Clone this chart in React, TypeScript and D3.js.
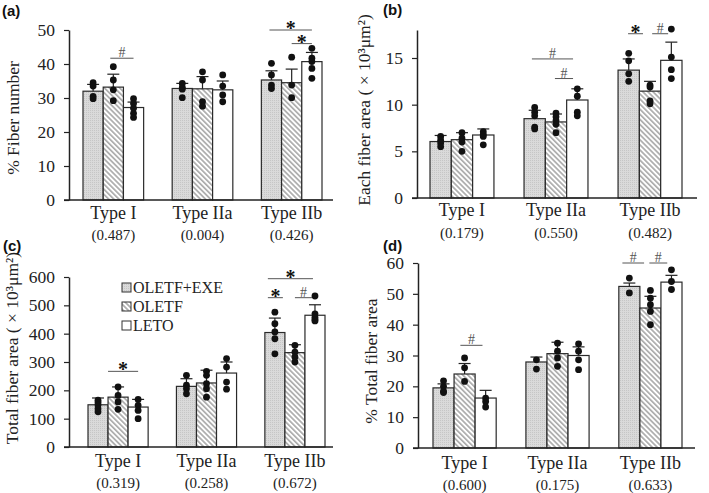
import React, { useEffect, useRef } from 'react'
import * as d3 from 'd3'

const TYPES = ['Type I', 'Type IIa', 'Type IIb']
const GROUPS = ['OLETF+EXE', 'OLETF', 'LETO']

// (a) % fiber number
const A_P = ['(0.487)', '(0.004)', '(0.426)']
const A_MEAN = [[32.0, 33.2, 27.2], [32.8, 32.7, 32.4], [35.3, 34.5, 40.7]]
const A_SD = [[2.0, 3.8, 1.6], [1.5, 3.6, 2.6], [2.7, 4.0, 2.7]]
const A_DOTS = [
  [[34.5, 33.5, 30.5, 29.8], [39.2, 35.3, 32.4, 29.2], [29.8, 28.4, 27.0, 25.5, 24.3]],
  [[34.3, 33.1, 32.6, 30.1], [37.7, 35.3, 28.9, 27.6], [36.8, 33.5, 30.9, 28.9]],
  [[40.2, 36.8, 33.8, 32.8], [42.0, 33.8, 30.1], [44.6, 41.7, 40.7, 38.7, 35.8]],
]
const A_SIG = [
  { type: 0, from: 1.35, to: 2.5, value: 41.7, mark: '#' },
  { type: 2, from: 0.4, to: 2.5, value: 50, mark: '*' },
  { type: 2, from: 1.5, to: 2.5, value: 46, mark: '*' },
]

// (b) each fiber area
const B_P = ['(0.179)', '(0.550)', '(0.482)']
const B_MEAN = [[6.05, 6.25, 6.75], [8.5, 8.15, 10.5], [13.7, 11.45, 14.75]]
const B_SD = [[0.65, 0.75, 0.65], [0.9, 0.85, 1.2], [1.2, 1.05, 1.95]]
const B_DOTS = [
  [[6.6, 6.2, 5.9, 5.5], [7.0, 6.4, 6.0, 5.0], [7.1, 6.8, 6.6, 5.7]],
  [[9.7, 9.2, 8.8, 7.6, 7.4], [9.1, 8.7, 8.3, 7.9, 7.0], [11.7, 10.9, 9.2, 8.8]],
  [[15.5, 14.7, 13.3, 12.5], [12.1, 11.9, 10.4, 10.1], [18.1, 15.1, 13.75, 12.8]],
]
const B_SIG = [
  { type: 1, from: 0.37, to: 2.3, value: 14.9, mark: '#' },
  { type: 1, from: 1.45, to: 2.3, value: 12.8, mark: '#' },
  { type: 2, from: 0.47, to: 1.17, value: 17.6, mark: '*' },
  { type: 2, from: 1.6, to: 2.35, value: 17.6, mark: '#' },
]

// (c) total fiber area
const C_P = ['(0.319)', '(0.258)', '(0.672)']
const C_MEAN = [[149, 176, 141], [214, 226, 261], [404, 333, 465]]
const C_SD = [[24, 36, 27], [27, 45, 39], [51, 28, 37]]
const C_DOTS = [
  [[165, 157, 148, 135, 124], [212, 182, 159, 133], [168, 147, 129, 100]],
  [[253, 218, 206, 188], [267, 253, 224, 206, 176], [312, 282, 229, 204]],
  [[476, 435, 406, 382, 329], [359, 335, 318, 300], [533, 470, 458, 450, 445]],
]
const C_SIG = [
  { type: 0, from: 1.0, to: 2.5, value: 267, mark: '*' },
  { type: 2, from: 0.15, to: 2.4, value: 594, mark: '*' },
  { type: 2, from: 0.15, to: 0.9, value: 527, mark: '*' },
  { type: 2, from: 1.5, to: 2.35, value: 527, mark: '#' },
]

// (d) % total fiber area
const D_P = ['(0.600)', '(0.175)', '(0.633)']
const D_MEAN = [[19.5, 24.0, 16.2], [27.9, 30.6, 30.0], [52.4, 45.4, 53.8]]
const D_SD = [[1.3, 3.4, 2.5], [1.6, 3.7, 2.8], [1.1, 3.8, 2.2]]
const D_DOTS = [
  [[21.8, 20.0, 18.4, 18.0], [29.2, 26.0, 21.6], [16.2, 15.1, 13.3]],
  [[28.6, 25.6], [34.0, 31.4, 29.2, 26.5], [33.8, 31.4, 28.6, 25.4]],
  [[55.1, 50.3], [51.1, 48.6, 46.5, 44.3, 40.0], [57.8, 54.0, 51.4]],
]
const D_SIG = [
  { type: 0, from: 1.3, to: 2.35, value: 33.3, mark: '#' },
  { type: 2, from: 0.17, to: 1.2, value: 60, mark: '#' },
  { type: 2, from: 1.45, to: 2.3, value: 60, mark: '#' },
]

const SERIF = '"Liberation Serif", "Times New Roman", serif'
const SANS = '"Liberation Sans", Arial, sans-serif'
const FILLS = ['url(#stipple)', 'url(#hatch)', '#ffffff']

type Sig = { type: number; from: number; to: number; value: number; mark: string }
type PanelCfg = {
  letter: string
  letterX: number
  letterY: number
  ylabel: string
  labelX: number
  labelY: number
  axisX: number
  axisR: number
  barsL: number
  barsR: number
  y0: number
  yTop: number
  max: number
  ticks: number[]
  catY: number
  pY: number
  pvals: string[]
  mean: number[][]
  sd: number[][]
  dots: number[][][]
  sig: Sig[]
  legend?: boolean
}

const PANELS: PanelCfg[] = [
  {
    letter: '(a)', letterX: 2, letterY: 16, ylabel: '% Fiber number', labelX: 13, labelY: 118,
    axisX: 69, axisR: 333, barsL: 83, barsR: 322, y0: 200, yTop: 30, max: 50,
    ticks: [0, 10, 20, 30, 40, 50], catY: 219, pY: 240, pvals: A_P,
    mean: A_MEAN, sd: A_SD, dots: A_DOTS, sig: A_SIG,
  },
  {
    letter: '(b)', letterX: 383, letterY: 15, ylabel: 'Each fiber area ( × 10³μm²)', labelX: 364, labelY: 110,
    axisX: 417, axisR: 697, barsL: 430, barsR: 682, y0: 198, yTop: 30, max: 18,
    ticks: [0, 5, 10, 15], catY: 216, pY: 238, pvals: B_P,
    mean: B_MEAN, sd: B_SD, dots: B_DOTS, sig: B_SIG,
  },
  {
    letter: '(c)', letterX: 3, letterY: 251, ylabel: 'Total fiber area ( × 10³μm²)', labelX: 12, labelY: 348,
    axisX: 69, axisR: 333, barsL: 88, barsR: 325, y0: 447, yTop: 277, max: 600,
    ticks: [0, 100, 200, 300, 400, 500, 600], catY: 467, pY: 488, pvals: C_P,
    mean: C_MEAN, sd: C_SD, dots: C_DOTS, sig: C_SIG, legend: true,
  },
  {
    letter: '(d)', letterX: 383, letterY: 251, ylabel: '% Total fiber area', labelX: 371, labelY: 361,
    axisX: 418, axisR: 695, barsL: 433, barsR: 682, y0: 448, yTop: 263, max: 60,
    ticks: [0, 10, 20, 30, 40, 50, 60], catY: 469, pY: 490, pvals: D_P,
    mean: D_MEAN, sd: D_SD, dots: D_DOTS, sig: D_SIG,
  },
]

function drawPanel(root: d3.Selection<SVGGElement, unknown, null, undefined>, p: PanelCfg) {
  const g = root.append('g')
  const y = d3.scaleLinear().domain([0, p.max]).range([p.y0, p.yTop])
  const x = d3.scaleBand().domain(TYPES).range([p.barsL, p.barsR]).paddingInner(0.32).paddingOuter(0)
  const xb = d3.scaleBand().domain(GROUPS).range([0, x.bandwidth()])
  const bw = xb.bandwidth()

  const rows = TYPES.flatMap((t, ti) =>
    GROUPS.map((grp, gi) => ({
      t, ti, grp, gi,
      mean: p.mean[ti][gi],
      sd: p.sd[ti][gi],
      dots: p.dots[ti][gi],
      cx: (x(t) ?? 0) + (xb(grp) ?? 0) + bw / 2,
    }))
  )

  // bars
  g.selectAll('rect.bar')
    .data(rows)
    .enter()
    .append('rect')
    .attr('class', 'bar')
    .attr('x', (d) => d.cx - bw / 2)
    .attr('y', (d) => y(d.mean))
    .attr('width', bw)
    .attr('height', (d) => p.y0 - y(d.mean))
    .attr('fill', (d) => FILLS[d.gi])
    .attr('stroke', '#2a2a2a')
    .attr('stroke-width', 1.2)

  // error bars (upper only)
  g.selectAll('line.err')
    .data(rows)
    .enter()
    .append('line')
    .attr('x1', (d) => d.cx)
    .attr('x2', (d) => d.cx)
    .attr('y1', (d) => y(d.mean))
    .attr('y2', (d) => y(d.mean + d.sd))
    .attr('stroke', '#222')
    .attr('stroke-width', 1.2)
  g.selectAll('line.cap')
    .data(rows)
    .enter()
    .append('line')
    .attr('x1', (d) => d.cx - 6)
    .attr('x2', (d) => d.cx + 6)
    .attr('y1', (d) => y(d.mean + d.sd))
    .attr('y2', (d) => y(d.mean + d.sd))
    .attr('stroke', '#222')
    .attr('stroke-width', 1.2)

  // individual points
  const pts = rows.flatMap((r) => r.dots.map((v) => ({ cx: r.cx, v })))
  g.selectAll('circle.dot')
    .data(pts)
    .enter()
    .append('circle')
    .attr('cx', (d) => d.cx)
    .attr('cy', (d) => y(d.v))
    .attr('r', 3.4)
    .attr('fill', '#111')

  // axes
  const ax = g.append('g')
    .attr('transform', `translate(${p.axisX},0)`)
    .call(d3.axisLeft(y).tickValues(p.ticks).tickSize(5).tickSizeOuter(0).tickPadding(9).tickFormat(d3.format('d')))
  ax.select('.domain').attr('stroke', '#222').attr('stroke-width', 1.5)
  ax.selectAll('.tick line').attr('stroke', '#222').attr('stroke-width', 1.2)
  ax.selectAll('.tick text')
    .attr('font-family', SERIF)
    .attr('font-size', 17.5)
    .attr('fill', '#222')

  g.append('line')
    .attr('x1', p.axisX - 5)
    .attr('x2', p.axisR)
    .attr('y1', y(0))
    .attr('y2', y(0))
    .attr('stroke', '#222')
    .attr('stroke-width', 1.5)

  // category labels
  g.selectAll('text.cat')
    .data(TYPES)
    .enter()
    .append('text')
    .attr('x', (d) => (x(d) ?? 0) + x.bandwidth() / 2)
    .attr('y', p.catY)
    .attr('text-anchor', 'middle')
    .attr('font-family', SERIF)
    .attr('font-size', 18)
    .attr('fill', '#222')
    .text((d) => d)
  g.selectAll('text.pv')
    .data(p.pvals)
    .enter()
    .append('text')
    .attr('x', (_, i) => (x(TYPES[i]) ?? 0) + x.bandwidth() / 2)
    .attr('y', p.pY)
    .attr('text-anchor', 'middle')
    .attr('font-family', SERIF)
    .attr('font-size', 15)
    .attr('fill', '#222')
    .text((d) => d)

  // significance brackets
  const sx = (s: Sig, f: number) => (x(TYPES[s.type]) ?? 0) + f * bw
  g.selectAll('line.sig')
    .data(p.sig)
    .enter()
    .append('line')
    .attr('x1', (d) => sx(d, d.from))
    .attr('x2', (d) => sx(d, d.to))
    .attr('y1', (d) => y(d.value))
    .attr('y2', (d) => y(d.value))
    .attr('stroke', '#555')
    .attr('stroke-width', 1)
  g.selectAll('text.sig')
    .data(p.sig)
    .enter()
    .append('text')
    .attr('x', (d) => (sx(d, d.from) + sx(d, d.to)) / 2)
    .attr('y', (d) => y(d.value) + (d.mark === '*' ? 5 : -1))
    .attr('text-anchor', 'middle')
    .attr('font-family', SERIF)
    .attr('font-size', (d) => (d.mark === '*' ? 20 : 14))
    .attr('font-weight', (d) => (d.mark === '*' ? 'bold' : 'normal'))
    .attr('fill', (d) => (d.mark === '*' ? '#111' : '#555'))
    .text((d) => d.mark)

  // y label
  g.append('text')
    .attr('transform', `translate(${p.labelX},${p.labelY}) rotate(-90)`)
    .attr('text-anchor', 'middle')
    .attr('dy', '0.35em')
    .attr('font-family', SERIF)
    .attr('font-size', 17.5)
    .attr('fill', '#222')
    .text(p.ylabel)

  // panel letter
  g.append('text')
    .attr('x', p.letterX)
    .attr('y', p.letterY)
    .attr('font-family', SANS)
    .attr('font-weight', 'bold')
    .attr('font-size', 15)
    .attr('fill', '#111')
    .text(p.letter)

  if (p.legend) {
    const lg = g.append('g')
    const ly = d3.scalePoint().domain(GROUPS).range([288, 326])
    lg.selectAll('rect')
      .data(GROUPS)
      .enter()
      .append('rect')
      .attr('x', 122)
      .attr('y', (d) => (ly(d) ?? 0) - 5)
      .attr('width', 9)
      .attr('height', 9)
      .attr('fill', (_, i) => FILLS[i])
      .attr('stroke', '#333')
      .attr('stroke-width', 1)
    lg.selectAll('text')
      .data(GROUPS)
      .enter()
      .append('text')
      .attr('x', 133)
      .attr('y', (d) => (ly(d) ?? 0) + 5)
      .attr('font-family', SERIF)
      .attr('font-size', 16)
      .attr('fill', '#222')
      .text((d) => d)
  }
}

export default function App() {
  const svgRef = useRef<SVGSVGElement>(null)

  useEffect(() => {
    if (!svgRef.current) return
    const svg = d3.select(svgRef.current)
    svg.selectAll('*').remove()

    const defs = svg.append('defs')
    const hatch = defs.append('pattern')
      .attr('id', 'hatch')
      .attr('patternUnits', 'userSpaceOnUse')
      .attr('width', 3.6)
      .attr('height', 3.6)
      .attr('patternTransform', 'rotate(-45)')
    hatch.append('rect').attr('width', 3.6).attr('height', 3.6).attr('fill', '#fff')
    hatch.append('rect').attr('width', 1.7).attr('height', 3.6).attr('fill', '#acacac')

    const st = defs.append('pattern')
      .attr('id', 'stipple')
      .attr('patternUnits', 'userSpaceOnUse')
      .attr('width', 2)
      .attr('height', 2)
    st.append('rect').attr('width', 2).attr('height', 2).attr('fill', '#dadada')
    st.append('rect').attr('width', 1).attr('height', 1).attr('fill', '#c6c6c6')

    const root = svg.append('g')
    PANELS.forEach((p) => drawPanel(root, p))
  }, [])

  return (
    <svg
      ref={svgRef}
      width={709}
      height={493}
      style={{ position: 'absolute', left: 0, top: 0, background: '#fff' }}
    />
  )
}
